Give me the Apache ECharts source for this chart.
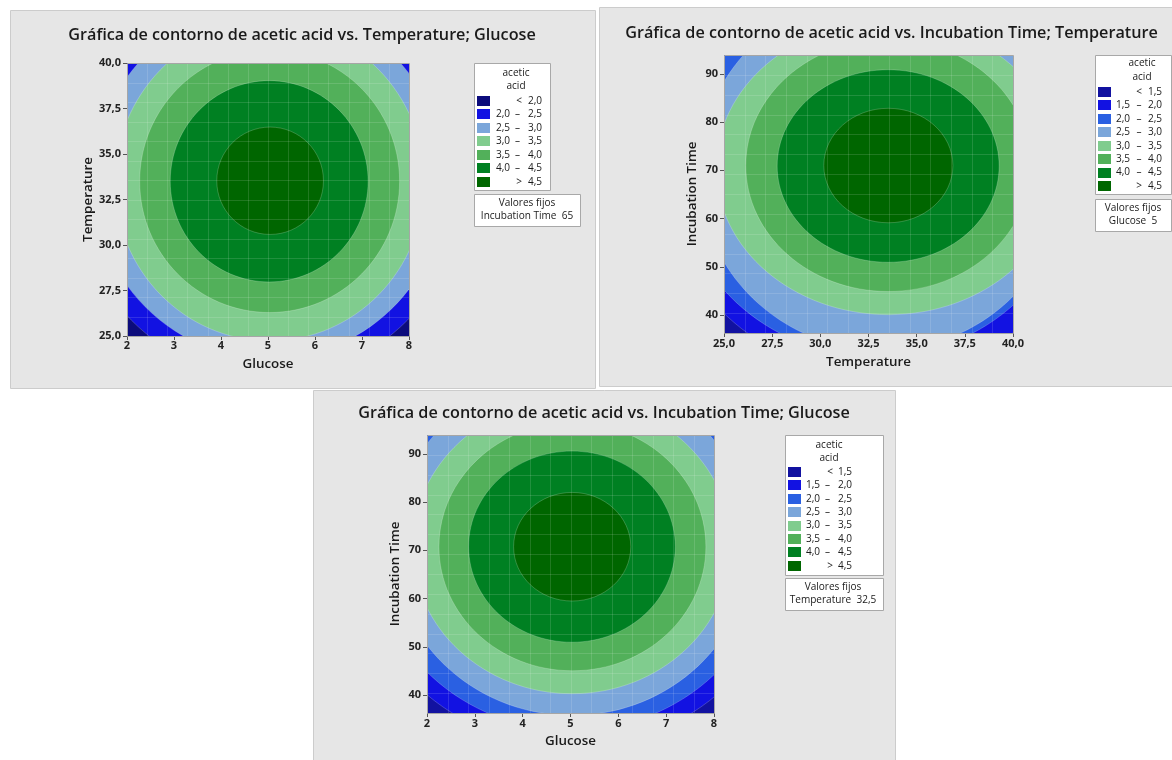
<!DOCTYPE html>
<html><head><meta charset="utf-8">
<script src="https://cdn.jsdelivr.net/npm/echarts@6/dist/echarts.min.js"></script>
<style>html,body{margin:0;padding:0;background:#fff}#c{width:1172px;height:760px}</style>
</head><body><div id="c"></div>
<script>
// ---------------- data ----------------
const glucoseTicks = [2, 3, 4, 5, 6, 7, 8];
const temperatureTicks = [25, 27.5, 30, 32.5, 35, 37.5, 40];
const incubationTicks = [40, 50, 60, 70, 80, 90];
const glucoseRange = [2, 8];
const temperatureRange = [25, 40];
const incubationRange = [36.3, 93.9];

const titles = [
  'Gráfica de contorno de acetic acid vs. Temperature; Glucose',
  'Gráfica de contorno de acetic acid vs. Incubation Time; Temperature',
  'Gráfica de contorno de acetic acid vs. Incubation Time; Glucose'
];
const legendTitle = ['acetic', 'acid'];
const holdTitle = 'Valores fijos';
const holdValues = ['Incubation Time  65', 'Glucose  5', 'Temperature  32,5'];

// Panel 1: acetic acid vs Temperature (y) & Glucose (x); contour boundaries (outer -> inner)
const p1Levels = [2.0, 2.5, 3.0, 3.5, 4.0, 4.5];
const p1CenterX = [5.03, 5.03, 5.035, 5.035, 5.025, 5.045];
const p1CenterY = [33.5, 33.5, 33.45, 33.5, 33.5, 33.53];
const p1RadiusX = [4.15, 3.74, 3.29, 2.765, 2.105, 1.135];
const p1RadiusY = [10.8, 9.75, 8.72, 7.21, 5.53, 2.95];

// Panel 2: acetic acid vs Incubation Time (y) & Temperature (x)
const p2Levels = [1.5, 2.0, 2.5, 3.0, 3.5, 4.0, 4.5];
const p2CenterX = [33.1, 32.9, 33.2, 33.54, 33.52, 33.52, 33.53];
const p2CenterY = [70.0, 70.0, 69.7, 70.5, 71.0, 70.9, 71.0];
const p2RadiusX = [11.3, 10.3, 9.5, 8.94, 7.39, 5.76, 3.35];
const p2RadiusY = [42.5, 38.6, 37.0, 30.4, 26.1, 19.95, 11.86];

// Panel 3: acetic acid vs Incubation Time (y) & Glucose (x)
const p3Levels = [1.5, 2.0, 2.5, 3.0, 3.5, 4.0, 4.5];
const p3CenterX = [5.03, 5.03, 5.03, 5.03, 5.04, 5.03, 5.035];
const p3CenterY = [70.9, 70.9, 71.2, 70.8, 70.75, 70.76, 70.75];
const p3RadiusX = [4.51, 4.15, 3.75, 3.33, 2.79, 2.16, 1.225];
const p3RadiusY = [41.6, 38.2, 35.4, 30.5, 25.7, 19.8, 11.25];

const p1Colors = ['#0c0c7c', '#1212e2', '#7ba6da', '#80cc8e', '#52b05a', '#008022', '#006600'];
const p23Colors = ['#1212a0', '#1212e2', '#2a60e2', '#7ba6da', '#80cc8e', '#52b05a', '#008022', '#006600'];

// ---------------- layout ----------------
const FONT = '"Open Sans", "Noto Sans", sans-serif';
const grids = [
  { left: 127, top: 63, width: 282, height: 273 },
  { left: 724, top: 55, width: 289, height: 278 },
  { left: 427, top: 435, width: 287, height: 278 }
];
const ctx = document.createElement('canvas').getContext('2d');
function fit(text, width, weight) {
  ctx.font = weight + ' 100px ' + FONT;
  return 100 * width / ctx.measureText(text).width;
}
const titleSize = fit(titles[0], 468, 600);
const nameSize = fit('Glucose', 51, 600);
const tickSize = 11;
const legSize = fit('acetic', 27, 400);

const comma1 = v => v.toFixed(1).replace('.', ',');
const intFmt = v => String(v);

function ellipses(cx, cy, rx, ry) {
  return cx.map((v, i) => [v, cy[i], rx[i], ry[i], i + 1]);
}
function makeRender(colors) {
  return function (params, api) {
    const c = api.coord([api.value(0), api.value(1)]);
    const s = api.size([api.value(2), api.value(3)]);
    const cs = params.coordSys;
    return {
      type: 'ellipse',
      shape: { cx: c[0], cy: c[1], rx: s[0], ry: s[1] },
      style: { fill: colors[api.value(4)], stroke: 'rgba(255,255,255,0.25)', lineWidth: 0.8 },
      clipPath: { type: 'rect', shape: { x: cs.x, y: cs.y, width: cs.width, height: cs.height } }
    };
  };
}
function axis(gi, name, range, ticks, fmt, gap, margin) {
  return {
    type: 'value', gridIndex: gi, min: range[0], max: range[1],
    name: name, nameLocation: 'middle', nameGap: gap,
    nameTextStyle: { fontFamily: FONT, fontSize: nameSize, fontWeight: 600, color: '#1a1a1a' },
    axisLine: { show: false },
    axisTick: { show: true, length: 4, customValues: ticks, lineStyle: { color: '#555' } },
    axisLabel: { customValues: ticks, formatter: fmt, margin: margin, fontFamily: FONT, fontSize: tickSize, fontWeight: 700, color: '#222' },
    splitLine: { show: false }
  };
}
function panelRect(x, y, w, h) {
  return { type: 'rect', z: -10, shape: { x, y, width: w, height: h }, style: { fill: '#e6e6e6', stroke: '#cccccc', lineWidth: 1 } };
}
function outline(g) {
  return { type: 'rect', z: 100, shape: { x: g.left + 0.5, y: g.top + 0.5, width: g.width, height: g.height }, style: { fill: null, stroke: '#a6a6a6', lineWidth: 1 } };
}
function mesh(g, n) {
  const els = [];
  for (let k = 1; k < n; k++) {
    const x = Math.round(g.left + k * g.width / n) + 0.5;
    const y = Math.round(g.top + k * g.height / n) + 0.5;
    els.push({ type: 'line', z: 99, silent: true, shape: { x1: x, y1: g.top, x2: x, y2: g.top + g.height }, style: { stroke: 'rgba(255,255,255,0.13)', lineWidth: 1 } });
    els.push({ type: 'line', z: 99, silent: true, shape: { x1: g.left, y1: y, x2: g.left + g.width, y2: y }, style: { stroke: 'rgba(255,255,255,0.13)', lineWidth: 1 } });
  }
  return els;
}
function txt(x, y, text, size, weight, align) {
  return { type: 'text', z: 101, x, y, style: { text, fontFamily: FONT, fontSize: size, fontWeight: weight, fill: '#1a1a1a', align: align || 'center', verticalAlign: 'middle' } };
}
function legend(L, levels, colors, hold) {
  const els = [];
  els.push({ type: 'rect', z: 100, shape: { x: L.x + 0.5, y: L.y + 0.5, width: L.w, height: L.h }, style: { fill: '#fff', stroke: '#a8a8a8', lineWidth: 1 } });
  els.push(txt(L.tx, L.ty, legendTitle[0], legSize, 400));
  els.push(txt(L.tx, L.ty + 13.3, legendTitle[1], legSize, 400));
  const n = colors.length;
  for (let i = 0; i < n; i++) {
    const yy = L.row + i * L.step;
    els.push({ type: 'rect', z: 101, shape: { x: L.sw, y: Math.round(yy - 5), width: 13, height: 10 }, style: { fill: colors[i] } });
    if (i === 0) {
      els.push(txt(L.lt, yy, '<', legSize, 400));
      els.push(txt(L.c, yy, comma1(levels[0]), legSize, 400, 'right'));
    } else if (i === n - 1) {
      els.push(txt(L.lt, yy, '>', legSize, 400));
      els.push(txt(L.c, yy, comma1(levels[n - 2]), legSize, 400, 'right'));
    } else {
      els.push(txt(L.a, yy, comma1(levels[i - 1]), legSize, 400, 'right'));
      els.push(txt(L.b, yy, '–', legSize, 400));
      els.push(txt(L.c, yy, comma1(levels[i]), legSize, 400, 'right'));
    }
  }
  els.push({ type: 'rect', z: 100, shape: { x: L.x + 0.5, y: L.hy + 0.5, width: L.hw, height: 32 }, style: { fill: '#fff', stroke: '#a8a8a8', lineWidth: 1 } });
  els.push(txt(L.hx, L.hy + 9, holdTitle, legSize, 400));
  els.push(txt(L.hx, L.hy + 22.5, hold, legSize, 400));
  return els;
}

const graphics = [
  panelRect(10.5, 10.5, 585, 378),
  panelRect(599.5, 7.5, 573, 379),
  panelRect(313.5, 390.5, 582, 370),
  txt(302, 35, titles[0], titleSize, 600),
  txt(891.5, 33, titles[1], titleSize, 600),
  txt(604, 413, titles[2], titleSize, 600),
  ...mesh(grids[0], 14), ...mesh(grids[1], 14), ...mesh(grids[2], 14),
  outline(grids[0]), outline(grids[1]), outline(grids[2]),
  ...legend({ x: 474, y: 63, w: 76, h: 127, tx: 516, ty: 73, row: 101, step: 13.45, sw: 477, a: 510, b: 517.5, lt: 519, c: 542, hy: 194, hw: 106, hx: 527 }, p1Levels, p1Colors, holdValues[0]),
  ...legend({ x: 1095, y: 55, w: 76, h: 139, tx: 1142, ty: 63.5, row: 92, step: 13.43, sw: 1098, a: 1130, b: 1139, lt: 1139, c: 1162, hy: 199, hw: 76, hx: 1133 }, p2Levels, p23Colors, holdValues[1]),
  ...legend({ x: 785, y: 435, w: 98, h: 140, tx: 829, ty: 445, row: 472, step: 13.4, sw: 788, a: 820, b: 827.5, lt: 830, c: 852, hy: 578, hw: 98, hx: 833 }, p3Levels, p23Colors, holdValues[2])
];

const option = {
  backgroundColor: '#ffffff',
  animation: false,
  grid: grids.map((g, i) => Object.assign({ show: true, borderWidth: 0, backgroundColor: i === 0 ? p1Colors[0] : p23Colors[0] }, g)),
  xAxis: [
    axis(0, 'Glucose', glucoseRange, glucoseTicks, intFmt, 22, 4),
    axis(1, 'Temperature', temperatureRange, temperatureTicks, comma1, 23, 5),
    axis(2, 'Glucose', glucoseRange, glucoseTicks, intFmt, 22, 5)
  ],
  yAxis: [
    axis(0, 'Temperature', temperatureRange, temperatureTicks, comma1, 30, 6),
    axis(1, 'Incubation Time', incubationRange, incubationTicks, intFmt, 25, 6),
    axis(2, 'Incubation Time', incubationRange, incubationTicks, intFmt, 25, 6)
  ],
  series: [
    { type: 'custom', xAxisIndex: 0, yAxisIndex: 0, silent: true, renderItem: makeRender(p1Colors), data: ellipses(p1CenterX, p1CenterY, p1RadiusX, p1RadiusY) },
    { type: 'custom', xAxisIndex: 1, yAxisIndex: 1, silent: true, renderItem: makeRender(p23Colors), data: ellipses(p2CenterX, p2CenterY, p2RadiusX, p2RadiusY) },
    { type: 'custom', xAxisIndex: 2, yAxisIndex: 2, silent: true, renderItem: makeRender(p23Colors), data: ellipses(p3CenterX, p3CenterY, p3RadiusX, p3RadiusY) }
  ],
  graphic: { elements: graphics }
};
const chart = echarts.init(document.getElementById('c'), null, { renderer: 'canvas' });
chart.setOption(option);
</script>
</body></html>
